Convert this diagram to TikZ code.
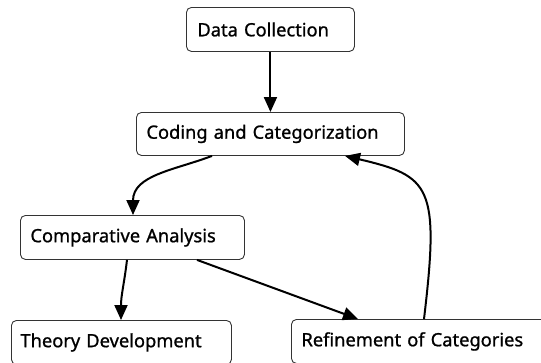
\documentclass[tikz,border=0pt]{standalone}
\usepackage{fontspec}
\setmainfont{Noto Sans}
\newfontfamily\boxfont{Noto Sans}[FakeBold=1]
\usepackage{tikz}
\usetikzlibrary{arrows.meta}

\begin{document}
\begin{tikzpicture}[x=1pt,y=-1pt,
	box/.style={draw=black!80,line width=0.9pt,rounded corners=5pt,anchor=north west,
		inner xsep=10pt,inner ysep=0pt,minimum height=44pt,align=left,
		font=\boxfont\fontsize{18.3pt}{22pt}\selectfont,text width=#1},
	link/.style={line width=2pt,-{Triangle[length=15pt,width=13pt]}}]
\useasboundingbox (0,0) rectangle (541,362);
\clip (0,0) rectangle (541,362);
\node [box=146pt,inner xsep=11pt] (d) at (186,7) {Data Collection};
\node [box=248pt,minimum height=43pt] (c) at (136,112) {Coding and Categorization};
\node [box=204pt] (p) at (20,215) {Comparative Analysis};
\node [box=202pt,inner xsep=9pt] (t) at (11,320) {Theory Development};
\node [box=250pt] (r) at (291,319) {Refinement of Categories};
\draw [link] (d.south) -- (c.north);
\draw [link] ([xshift=76pt]c.south west) .. controls (175,170) and (133,175) .. ([xshift=113pt]p.north west);
\draw [link] ([xshift=107pt]p.south west) .. controls (124,285) and (121,295) .. ([xshift=110pt]t.north west);
\draw [link] ([xshift=177pt]p.south west) -- ([xshift=67pt]r.north west);
\draw [link] ([xshift=133pt]r.north west) .. controls (440,185) and (430,176) .. ([xshift=209pt]c.south west);
\end{tikzpicture}
\end{document}
